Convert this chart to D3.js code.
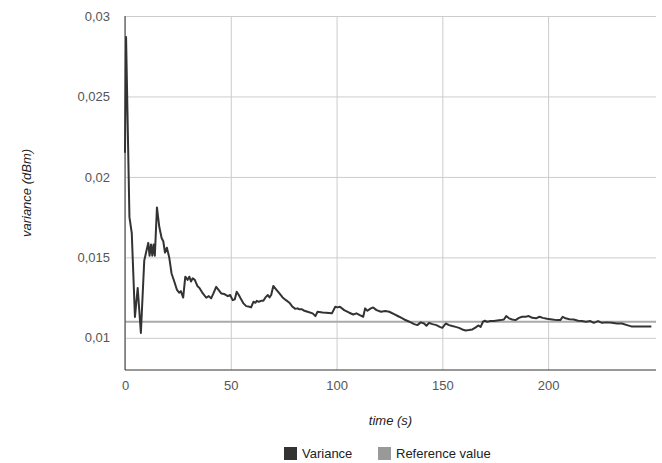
<!DOCTYPE html>
<html>
<head>
<meta charset="utf-8">
<script src="https://cdn.jsdelivr.net/npm/d3@7"></script>
<style>
  body { margin: 0; background: #fff; }
  text { font-family: Arial, "Liberation Sans", sans-serif; }
</style>
</head>
<body>
<div id="chart"></div>
<script>
'use strict'

var times = [
  0, 0.5, 2.1, 3.2, 4.7, 6.0, 7.5, 9.1, 10.3, 11.0, 11.6, 12.3, 12.9, 13.5, 14.1,
  15.1, 16.2, 17.3, 18.1, 18.9, 19.8, 20.9, 22.0, 23.3, 24.5, 25.6, 26.4, 27.5,
  28.5, 29.6, 30.4, 31.2, 32.0, 33.0, 34.3, 35.2, 36.8, 38.4, 39.6, 40.7, 41.8,
  43.1, 44.3, 45.5, 47.0, 48.6, 49.7, 50.9, 51.9, 52.8, 53.8, 54.9, 56.0, 57.3,
  58.8, 59.6, 60.7, 61.7, 62.3, 63.2, 64.3, 65.4, 66.4, 67.5, 68.3, 69.1, 70.1,
  71.4, 73.0, 74.5, 76.1, 77.7, 79.2, 80.5, 81.6, 82.4, 83.7, 84.8, 86.3, 88.7,
  90.0, 91.0, 93.4, 95.0, 97.8, 99.4, 100.5, 101.6, 103.6, 106.0, 107.9, 109.4,
  111.0, 112.6, 113.5, 114.6, 116.2, 117.3, 118.9, 121.0, 123.0, 124.9, 127.2,
  129.6, 132.0, 134.4, 136.7, 138.2, 139.8, 141.4, 142.5, 143.7, 145.3, 147.2,
  148.8, 150.0, 151.6, 153.2, 154.7, 156.3, 157.9, 159.4, 161.0, 162.6, 164.2,
  165.8, 167.0, 168.1, 169.2, 170.1, 171.2, 172.8, 174.4, 176.0, 177.5, 179.1,
  180.2, 181.5, 183.0, 184.6, 186.2, 187.7, 189.3, 190.9, 192.5, 194.3, 195.9,
  197.5, 199.5, 201.9, 204.2, 205.8, 206.9, 208.2, 210.1, 212.1, 214.2, 216.0,
  217.9, 220.0, 221.6, 223.6, 225.5, 227.8, 230.2, 232.5, 234.9, 237.3, 239.3,
  248.8
];

var variance = [
  0.0215, 0.0287, 0.0175, 0.0165, 0.0113, 0.0131, 0.0103, 0.0148, 0.0155, 0.0159,
  0.0151, 0.0158, 0.0151, 0.0158, 0.0151, 0.0181, 0.0169, 0.0162, 0.0160, 0.0153,
  0.0156, 0.0150, 0.0140, 0.0135, 0.0130, 0.0128, 0.0129, 0.0125, 0.0138, 0.0136,
  0.0138, 0.0135, 0.0137, 0.0136, 0.0132, 0.0131, 0.01276, 0.01249, 0.01259,
  0.01245, 0.01276, 0.01317, 0.01297, 0.01276, 0.01272, 0.01259, 0.01266, 0.01234,
  0.01239, 0.01286, 0.01266, 0.01239, 0.01214, 0.01197, 0.01193, 0.01189, 0.01224,
  0.01218, 0.0123, 0.01224, 0.0123, 0.0123, 0.01251, 0.01266, 0.01251, 0.01266,
  0.01322, 0.01301, 0.01276, 0.01251, 0.01234, 0.01218, 0.01193, 0.0118, 0.01183,
  0.01177, 0.01177, 0.01168, 0.01162, 0.01152, 0.01135, 0.01162, 0.01158, 0.01156,
  0.01152, 0.01193, 0.01189, 0.01193, 0.01172, 0.01156, 0.01145, 0.01152, 0.01141,
  0.01131, 0.01183, 0.01168, 0.01183, 0.01189, 0.01172, 0.01162, 0.01166, 0.01162,
  0.01147, 0.01131, 0.01114, 0.011, 0.01085, 0.01079, 0.01096, 0.01089, 0.01075,
  0.01093, 0.01085, 0.01079, 0.01068, 0.01062, 0.01089, 0.01079, 0.01073, 0.01068,
  0.01062, 0.01052, 0.01046, 0.01048, 0.01052, 0.01065, 0.01077, 0.01068, 0.011,
  0.01106, 0.011, 0.01104, 0.01104, 0.01108, 0.0111, 0.01114, 0.01135, 0.01121,
  0.01114, 0.0111, 0.01124, 0.01131, 0.01131, 0.01135, 0.01124, 0.01121, 0.01131,
  0.01124, 0.01118, 0.01114, 0.0111, 0.0111, 0.01131, 0.01121, 0.01116, 0.01114,
  0.01106, 0.01104, 0.011, 0.01104, 0.01093, 0.01104, 0.01093, 0.01096, 0.01093,
  0.01089, 0.01089, 0.01079, 0.01071, 0.01071
];

var referenceValue = 0.011;

var xTicks = [0, 50, 100, 150, 200];
var yTicks = [0.01, 0.015, 0.02, 0.025, 0.03];
var seriesNames = ['Variance', 'Reference value'];
var seriesColors = ['#333333', '#999999'];

(function() {
  var width = 662, height = 463;
  var padding = { top: 16, right: 6, bottom: 93, left: 125 };
  var innerW = width - padding.left - padding.right;
  var innerH = height - padding.top - padding.bottom;

  var svg = d3.select('#chart').append('svg')
    .attr('width', width)
    .attr('height', height);

  var x = d3.scaleLinear().domain([0, 251]).range([padding.left, padding.left + innerW]);
  var y = d3.scaleLinear().domain([0.008, 0.03]).range([padding.top + innerH, padding.top]);

  var commaFmt = function(d) { return d3.format('~g')(+d.toFixed(4)).replace('.', ','); };

  // gridlines
  svg.append('g')
    .attr('transform', 'translate(0,' + (padding.top + innerH) + ')')
    .call(d3.axisBottom(x).tickValues(xTicks).tickSize(-innerH).tickFormat(''))
    .call(function(g) {
      g.select('.domain').remove();
      g.selectAll('line').attr('stroke', '#cccccc');
    });

  svg.append('g')
    .attr('transform', 'translate(' + padding.left + ',0)')
    .call(d3.axisLeft(y).tickValues(yTicks).tickSize(-innerW).tickFormat(''))
    .call(function(g) {
      g.select('.domain').remove();
      g.selectAll('line').attr('stroke', '#cccccc');
    });

  // tick labels
  svg.append('g')
    .attr('transform', 'translate(0,' + (padding.top + innerH) + ')')
    .call(d3.axisBottom(x).tickValues(xTicks).tickSize(0).tickPadding(11).tickFormat(d3.format('d')))
    .call(function(g) {
      g.select('.domain').remove();
      g.selectAll('text').attr('fill', '#555').attr('font-size', 13)
        .style('font-family', 'Arial, "Liberation Sans", sans-serif');
    });

  svg.append('g')
    .attr('transform', 'translate(' + padding.left + ',0)')
    .call(d3.axisLeft(y).tickValues(yTicks).tickSize(0).tickPadding(15).tickFormat(commaFmt))
    .call(function(g) {
      g.select('.domain').remove();
      g.selectAll('text').attr('fill', '#555').attr('font-size', 13)
        .style('font-family', 'Arial, "Liberation Sans", sans-serif');
    });

  // reference line
  svg.append('line')
    .attr('x1', x(0)).attr('x2', x(251))
    .attr('y1', y(referenceValue)).attr('y2', y(referenceValue))
    .attr('stroke', '#aaaaaa')
    .attr('stroke-width', 2);

  // variance line
  var data = times.map(function(t, i) { return [t, variance[i]]; });
  var line = d3.line()
    .x(function(d) { return x(d[0]); })
    .y(function(d) { return y(d[1]); });

  svg.append('path')
    .datum(data)
    .attr('d', line)
    .attr('fill', 'none')
    .attr('stroke', seriesColors[0])
    .attr('stroke-width', 2)
    .attr('stroke-linejoin', 'round');

  // axis lines
  svg.append('line')
    .attr('x1', padding.left).attr('x2', padding.left)
    .attr('y1', padding.top).attr('y2', padding.top + innerH)
    .attr('stroke', '#333').attr('stroke-width', 1);
  svg.append('line')
    .attr('x1', padding.left).attr('x2', padding.left + innerW)
    .attr('y1', padding.top + innerH).attr('y2', padding.top + innerH)
    .attr('stroke', '#333').attr('stroke-width', 1);

  // axis titles
  svg.append('text')
    .attr('x', padding.left + innerW / 2)
    .attr('y', 425)
    .attr('text-anchor', 'middle')
    .attr('font-size', 13)
    .attr('font-style', 'italic')
    .attr('fill', '#222')
    .text('time (s)');

  svg.append('text')
    .attr('text-anchor', 'middle')
    .attr('transform', 'translate(31,' + (padding.top + innerH / 2) + ') rotate(-90)')
    .attr('font-size', 13)
    .attr('font-style', 'italic')
    .attr('fill', '#222')
    .text('variance (dBm)');

  // legend
  var legendX = [284, 378];
  var legend = svg.append('g');
  seriesNames.forEach(function(name, i) {
    legend.append('rect')
      .attr('x', legendX[i]).attr('y', 447)
      .attr('width', 13).attr('height', 13)
      .attr('fill', seriesColors[i]);
    legend.append('text')
      .attr('x', legendX[i] + 18).attr('y', 458)
      .attr('font-size', 13)
      .attr('fill', '#222')
      .text(name);
  });
})();
</script>
</body>
</html>
